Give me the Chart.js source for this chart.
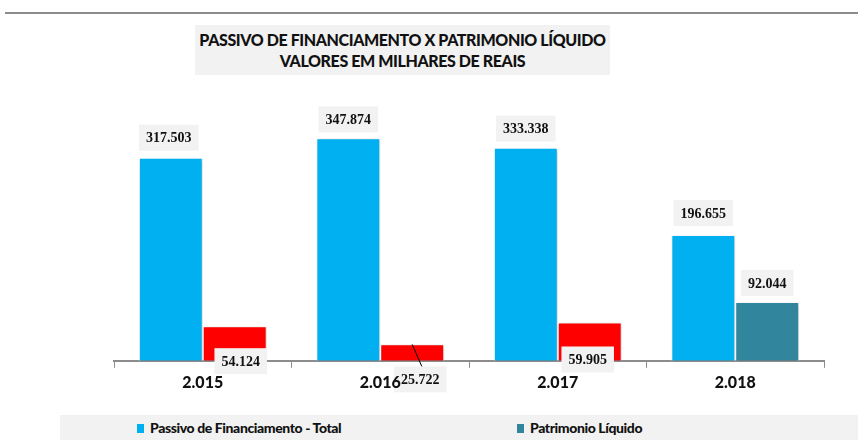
<!DOCTYPE html>
<html>
<head>
<meta charset="utf-8">
<script src="https://cdn.jsdelivr.net/npm/chart.js@4/dist/chart.umd.min.js"></script>
<style>
  body { margin: 0; background: #fff; width: 858px; height: 440px; overflow: hidden; position: relative; font-family: Lato, sans-serif; }
  #topline { position: absolute; left: 5px; right: 0; top: 12px; height: 2px; background: #8c8c8c; }
  #title { position: absolute; left: 195px; top: 25px; width: 415px; height: 50px; background: #f2f2f2;
    text-align: center; font-weight: 900; font-size: 16px; line-height: 21px; padding-top: 4px; box-sizing: border-box; color: #111; letter-spacing: -0.4px; }
  #legend { position: absolute; left: 60px; right: 0; top: 415px; height: 25px; background: #f2f2f2;
    font-weight: 900; font-size: 14px; color: #111; letter-spacing: -0.4px; }
  .item { position: absolute; top: 4px; }
  .sw { display: inline-block; width: 7px; height: 9px; margin-right: 6px; }
  canvas { position: absolute; left: 0; top: 0; }
</style>
</head>
<body>
<div id="topline"></div>
<div id="title">PASSIVO DE FINANCIAMENTO X PATRIMONIO LÍQUIDO<br>VALORES EM MILHARES DE REAIS</div>
<div id="legend">
  <span class="item" style="left:77px"><span class="sw" style="background:#00b0f0"></span>Passivo de Financiamento - Total</span>
  <span class="item" style="left:457px"><span class="sw" style="background:#31859c"></span>Patrimonio Líquido</span>
</div>
<canvas id="chart" width="858" height="440"></canvas>
<script>
const years = ['2.015', '2.016', '2.017', '2.018'];
const passivoTotal = [317503, 347874, 333338, 196655];
const patrimonioLiquido = [54124, 25722, 59905, 92044];
const patrimonioColors = ['#ff0000', '#ff0000', '#ff0000', '#31859c'];

// label offsets relative to bar top (dx, dy)
const labelOffsets = [
  [[-2, -20], [0, -19], [0, -19], [0, -22]],
  [[6, 35], [8, 35], [-2, 37], [0, -19]]
];

function fmt(v) {
  return v.toLocaleString('de-DE');
}

// data labels first, then the year labels on top (the 2.016 label sits over the 25.722 box)
const valueLabels = {
  id: 'valueLabels',
  afterDatasetsDraw(chart) {
    const ctx = chart.ctx;
    ctx.save();
    ctx.font = 'bold 14px "Liberation Serif", serif';
    ctx.textAlign = 'center';
    ctx.textBaseline = 'middle';
    chart.data.datasets.forEach((ds, di) => {
      chart.getDatasetMeta(di).data.forEach((bar, i) => {
        const [dx, dy] = labelOffsets[di][i];
        const x = bar.x + dx, y = bar.y + dy;
        const text = fmt(ds.data[i]);
        const w = ctx.measureText(text).width + 14;
        if (di === 1 && i === 1) {
          ctx.strokeStyle = '#000';
          ctx.lineWidth = 1;
          ctx.beginPath();
          ctx.moveTo(bar.x, bar.y);
          ctx.lineTo(x + 2, y - 12);
          ctx.stroke();
        }
        ctx.fillStyle = '#f2f2f2';
        ctx.fillRect(x - w / 2, y - 13, w, 26);
        ctx.fillStyle = '#111';
        ctx.fillText(text, x, y + 1);
      });
    });

    const xs = chart.scales.x;
    ctx.font = '900 16px Lato';
    ctx.fillStyle = '#111';
    ctx.textBaseline = 'top';
    years.forEach((lbl, i) => {
      ctx.fillText(lbl, xs.getPixelForTick(i), xs.top + 14);
    });
    ctx.restore();
  }
};

const barShadow = {
  id: 'barShadow',
  beforeDatasetsDraw(chart) {
    const ctx = chart.ctx;
    ctx.save();
    ctx.shadowColor = 'rgba(0,0,0,0.25)';
    ctx.shadowBlur = 3;
    ctx.shadowOffsetX = 1;
    ctx.shadowOffsetY = 1;
  },
  afterDatasetsDraw(chart) {
    chart.ctx.restore();
  }
};

new Chart(document.getElementById('chart'), {
  type: 'bar',
  data: {
    labels: years,
    datasets: [
      {
        label: 'Passivo de Financiamento - Total',
        data: passivoTotal,
        backgroundColor: '#00b0f0',
        borderColor: '#ffffff',
        borderWidth: 1,
        categoryPercentage: 0.72,
        barPercentage: 1
      },
      {
        label: 'Patrimonio Líquido',
        data: patrimonioLiquido,
        backgroundColor: patrimonioColors,
        borderColor: '#ffffff',
        borderWidth: 1,
        categoryPercentage: 0.72,
        barPercentage: 1
      }
    ]
  },
  options: {
    responsive: false,
    animation: false,
    layout: { padding: { left: 114, right: 34, top: 105, bottom: 41 } },
    plugins: {
      legend: { display: false },
      title: { display: false },
      tooltip: { enabled: false }
    },
    scales: {
      x: {
        grid: { drawOnChartArea: false, drawTicks: true, tickLength: 7, color: '#8c8c8c', offset: true },
        border: { color: '#8c8c8c', width: 2 },
        ticks: { color: 'rgba(0,0,0,0)', font: { family: 'Lato', weight: '900', size: 16 }, padding: 6 }
      },
      y: {
        display: false,
        min: 0,
        max: 400000
      }
    }
  },
  plugins: [barShadow, valueLabels]
});
</script>
</body>
</html>
